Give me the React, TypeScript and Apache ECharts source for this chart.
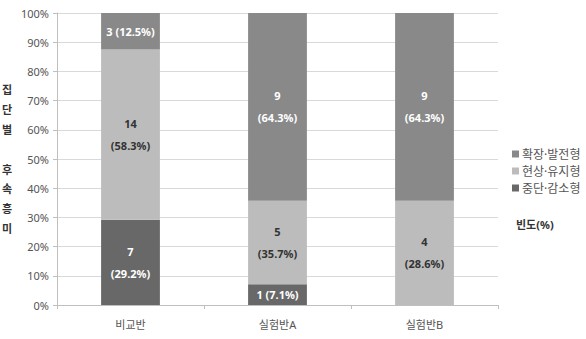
import React, { useEffect, useRef } from "react";
import * as echarts from "echarts";

const categories = ["비교반", "실험반A", "실험반B"];
const seriesNames = ["중단·감소형", "현상·유지형", "확장·발전형"];
// bar heights (%) as drawn
const declineShare = [29.2, 7.1, 0];
const maintainShare = [58.3, 28.6, 35.7];
const expandShare = [12.5, 64.3, 64.3];
// label values
const declineCount = [7, 1, 0];
const maintainCount = [14, 5, 4];
const expandCount = [3, 9, 9];
const declinePct = ["29.2", "7.1", "0"];
const maintainPct = ["58.3", "35.7", "28.6"];
const expandPct = ["12.5", "64.3", "64.3"];
const yTicks = ["0%", "10%", "20%", "30%", "40%", "50%", "60%", "70%", "80%", "90%", "100%"];

const colors = ["#686868", "#bcbcbc", "#898989"];
const FONT = "'Noto Sans', 'Noto Sans CJK KR', sans-serif";

export default function App() {
  const ref = useRef<HTMLDivElement>(null);
  useEffect(() => {
    document.body.style.margin = "0";
    if (!ref.current) return;
    const chart = echarts.init(ref.current, undefined, { renderer: "svg" });

    const mk = (
      name: string,
      data: number[],
      counts: number[],
      pcts: string[],
      color: string,
      textColor: string,
      oneLine: boolean[]
    ) => ({
      name,
      type: "bar",
      stack: "total",
      barCategoryGap: "60%",
      data,
      itemStyle: { color },
      label: {
        show: true,
        position: "inside",
        color: textColor,
        fontFamily: FONT,
        fontSize: 11,
        fontWeight: "bold",
        lineHeight: 22,
        formatter: (p: any) => {
          const i = p.dataIndex;
          if (!counts[i]) return "";
          return oneLine[i]
            ? `${counts[i]} (${pcts[i]}%)`
            : `${counts[i]}\n(${pcts[i]}%)`;
        },
      },
    });

    chart.setOption({
      animation: false,
      textStyle: { fontFamily: FONT },
      grid: { left: 57, right: 88, top: 13, bottom: 34 },
      legend: {
        orient: "vertical",
        left: 507,
        top: 143,
        itemWidth: 7,
        itemHeight: 7,
        itemGap: 5,
        icon: "rect",
        data: [seriesNames[2], seriesNames[1], seriesNames[0]],
        textStyle: { fontSize: 12, color: "#555", fontFamily: FONT, padding: [0, 0, 0, -2] },
      },
      xAxis: {
        type: "category",
        data: categories,
        axisLine: { lineStyle: { color: "#bfbfbf" } },
        axisTick: { show: true, length: 4, lineStyle: { color: "#bfbfbf" } },
        axisLabel: { color: "#555", fontSize: 11, margin: 14, fontFamily: FONT },
      },
      yAxis: {
        type: "value",
        min: 0,
        max: 100,
        interval: 10,
        axisLine: { show: true, lineStyle: { color: "#bfbfbf" } },
        axisTick: { show: true, length: 4, lineStyle: { color: "#bfbfbf" } },
        splitLine: { lineStyle: { color: "#d9d9d9" } },
        axisLabel: {
          color: "#555",
          fontSize: 11,
          margin: 8,
          fontFamily: FONT,
          formatter: (v: number) => yTicks[Math.round(v / 10)],
        },
      },
      graphic: [
        {
          type: "text",
          left: 2,
          top: 80,
          style: {
            text: "집\n단\n별\n\n후\n속\n흥\n미",
            fontSize: 11,
            fontWeight: "bold",
            lineHeight: 19.8,
            fill: "#333",
            fontFamily: FONT,
          },
        },
        {
          type: "text",
          left: 516,
          top: 219,
          style: {
            text: "빈도(%)",
            fontSize: 11,
            fontWeight: "bold",
            fill: "#333",
            fontFamily: FONT,
          },
        },
      ],
      series: [
        mk(seriesNames[0], declineShare, declineCount, declinePct, colors[0], "#fff", [false, true, false]),
        mk(seriesNames[1], maintainShare, maintainCount, maintainPct, colors[1], "#333", [false, false, false]),
        mk(seriesNames[2], expandShare, expandCount, expandPct, colors[2], "#fff", [true, false, false]),
      ],
    });
    return () => chart.dispose();
  }, []);
  return <div ref={ref} style={{ width: 586, height: 339 }} />;
}
